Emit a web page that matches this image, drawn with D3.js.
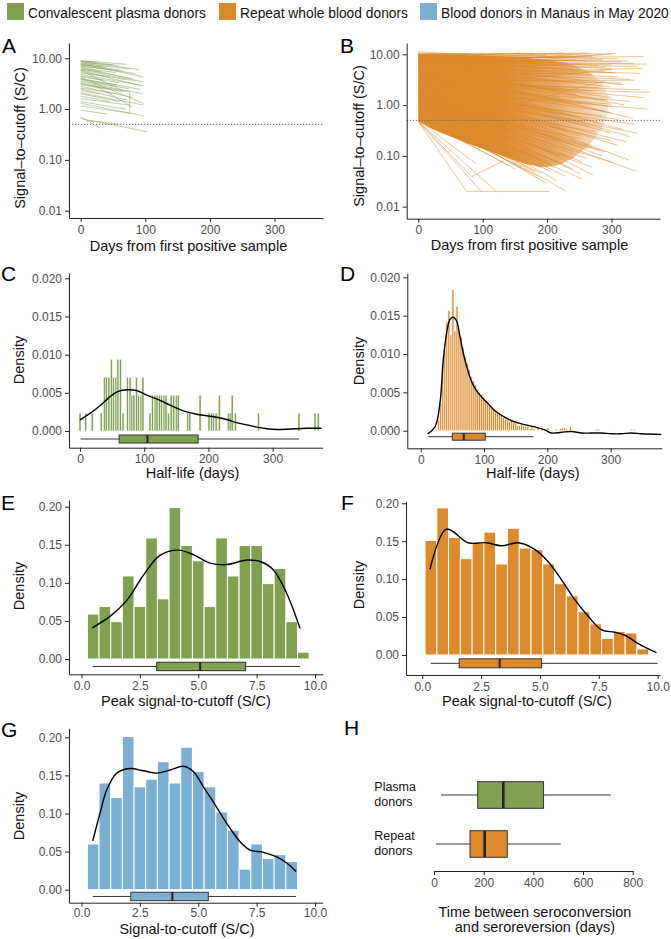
<!DOCTYPE html>
<html>
<head>
<meta charset="utf-8">
<script src="https://cdn.jsdelivr.net/npm/d3@7"></script>
<style>
  body { margin: 0; background: #fff; }
  svg { font-family: "Liberation Sans", Arial, Helvetica, sans-serif; }
</style>
</head>
<body>
<div id="fig"></div>
<script>
// colours of the three donor groups
var green = "#80a052", orange = "#dd8a2c", blue = "#7bafd4";

var legendLabels = ["Convalescent plasma donors", "Repeat whole blood donors", "Blood donors in Manaus in May 2020"];

// tick values
var scTicks = [0.01, 0.1, 1, 10];
var dayTicks = [0, 100, 200, 300];
var hlDensTicks = [0, 0.005, 0.01, 0.015, 0.02];
var scDensTicks = [0, 0.05, 0.1, 0.15, 0.2];
var scTicksX = [0, 2.5, 5, 7.5, 10];
var hTicks = [0, 200, 400, 600, 800];
var cutoff = 0.5;

// A: plasma donors, segments [day0, sc0, day1, sc1]
var aSegments = [
  [0,9.0,72,7.6],[0,8.8,60,7.2],[0,8.6,90,6.0],[0,8.3,50,7.5],[0,8.0,76,6.2],[0,7.8,97,4.3],
  [0,7.5,40,6.6],[0,7.2,85,5.0],[0,7.0,65,5.6],[0,6.8,97,3.4],[0,6.5,55,5.2],[0,6.2,80,4.0],
  [0,6.0,30,5.4],[0,5.7,92,2.9],[0,5.4,70,3.8],[0,5.1,45,4.3],[0,4.8,97,2.9],[0,4.5,60,3.3],
  [0,4.3,35,3.7],[0,4.0,92,2.45],[0,3.8,75,2.5],[0,3.6,50,2.8],[0,3.4,97,2.0],[0,3.2,65,2.2],
  [0,3.0,40,2.5],[0,2.8,80,1.7],[0,2.6,55,2.0],[0,2.5,72,1.5],[0,2.3,30,2.0],[0,2.1,97,1.2],
  [0,2.0,60,1.4],[0,1.8,45,1.4],[0,1.6,76,1.2],[0,1.4,70,1.0],[0,1.15,76,0.83],[0,3.1,76,2.2],
  [76,2.2,76,0.83],[0,0.95,40,0.8],[0,0.7,30,0.42],[0,0.65,102,0.36],[10,0.6,60,0.5],[0,8.9,25,8.4],
  [5,7.9,35,7.0],[10,5.0,65,2.3],[0,4.2,97,1.3],[20,3.0,80,1.1],[0,5.9,85,3.6],[0,7.6,60,5.9],
  [0,3.9,55,3.0],[0,1.3,97,0.74]
];

// B: repeat donors, outline of the dense fan (faded to the right) and single segments
var bFanDay = [0,60,120,170,210,240,265,285,295,295,285,265,240,215,190,165,140,110,80,50,23,0];
var bFanSC = [10.1,9.8,9.3,8.6,7.6,6.2,4.5,2.8,1.5,0.7,0.33,0.16,0.09,0.065,0.06,0.07,0.09,0.125,0.17,0.24,0.33,0.48];
var bSegments = [
  [0,9.5,80,10.2],[0,10.5,100,10.0],[0,11.2,85,9.7],[0,9,137,10.2],[0,8,158,10.6],[0,7.5,225,10.6],
  [0,9,240,9.9],[0,6,266,10.4],[0,7,287,9.8],[0,5,307,10.4],[0,8,315,7.1],[0,4,349,5.3],
  [0,3,336,3.1],[0,2.5,359,1.78],[0,6,297,2.3],[0,4,292,1.25],[0,3,302,0.93],[0,2,356,0.83],
  [0,5,333,0.55],[0,3.5,318,0.33],[0,4,328,0.24],[0,2,323,0.19],[0,1.5,282,0.13],[0,3,326,0.084],
  [0,1.8,338,0.05],[0,1.2,261,0.089],[0,2.5,271,0.042],[0,1.5,251,0.045],[0,0.9,230,0.02],
  [0,1,215,0.033],[0,0.8,199,0.029],[0,1.2,189,0.061],
  [0,0.48,75,0.02],[75,0.02,204,0.02],[0,0.48,98,0.02],[0,0.48,121,0.02],[0,0.48,83,0.039],
  [83,0.039,132,0.08],[0,0.5,90,0.07],
  [0,8.5,260,7.5],[0,9.5,280,6],[0,7,250,5],[0,6.5,270,4],[0,9,300,5.2],[0,5.5,310,3.6],
  [0,8,290,4.5],[0,4.5,260,2.8],[0,7,320,2.5],[0,3.5,270,1.9],[0,6,245,1.6],[0,5,300,1.4],
  [0,4,255,1.1],[0,2.8,290,0.75],[0,6.5,320,1.0],[0,3,240,0.6],[0,4.2,280,0.45],[0,2.2,265,0.38],
  [0,5.5,300,0.7],[0,2.5,250,0.25],[0,1.8,230,0.18],[0,3.2,300,0.28],[0,1.4,240,0.12],[0,2,270,0.15],
  [0,1.1,220,0.1],[0,2.6,310,0.16],[0,0.9,205,0.07],[0,1.6,255,0.075],[0,1.3,240,0.055],[0,2.2,285,0.1],
  [0,0.8,190,0.045],[0,1,228,0.04],
  [0,9.8,200,9.5],[0,9.2,230,8.5],[0,8.8,255,9.2],[0,10,180,10.4],[0,8,210,7],[0,7.3,245,7.8],
  [0,9,275,8.5],[0,6.8,300,6.2],[0,7.7,335,6.5],[0,5.7,345,4.2],[120,3,300,5],[150,1,290,3],
  [0,0.7,170,0.05],[0,0.6,150,0.055],[0,1.5,200,0.06],[0,0.9,180,0.05],[0,1.2,210,0.06],
  [0,9.3,310,8.2],[0,8.2,325,7.4],[0,6.2,340,5.8],[0,7.8,270,9.2],[0,6.6,285,7.9],[0,5.2,255,6.5],
  [0,4.8,290,5.6],[0,3.8,305,4.4],[0,4.6,330,3.2],[0,3.4,315,2.7],[0,2.7,280,2.2],[0,2.9,345,2.0],
  [0,3.6,350,1.4],[0,2.3,330,1.2],[0,1.9,300,1.05],[0,1.7,285,0.62],[0,2.1,310,0.52],[0,1.4,260,0.48],
  [0,1.7,335,0.42],[0,1.25,275,0.3],[0,1.9,340,0.28],[0,1.05,250,0.22],[0,1.5,300,0.2],[0,0.95,265,0.14],
  [0,1.3,290,0.12],[0,0.85,240,0.09],[0,1.15,300,0.075],[0,0.75,225,0.07],[0,1.0,270,0.06],[0,0.7,205,0.05],
  [0,0.65,185,0.04],[0,0.9,255,0.035],[0,0.6,160,0.06],[0,0.55,140,0.065],[0,0.7,175,0.07],[0,0.8,200,0.08],
  [0,10.2,300,10.2],[0,9.6,260,10.6],[0,8.4,350,9.0],[0,7,355,6.4]
];

// C: half-life histogram of plasma donors (bin centre in days, count) and density
var cBinWidth = 3.3, cDensPerCount = 0.00235;
var cHistDay = [0,9,19,33,38,41,45,49,52,56,59,63,67,74,78,81,84,88,91,95,98,109,113,117,120,
  124,127,131,134,138,142,146,150,153,168,171,187,201,205,208,212,217,231,234,237,242,278,341,366,371];
var cHistCount = [1,1,1,1,3,3,3,4,3,3,4,4,1,3,3,2,2,3,2,2,3,1,2,2,2,
  2,2,2,2,1,2,2,2,2,1,1,2,1,1,1,1,2,1,1,2,1,1,1,1,1];
var cDensDay = [0,15.6,31.2,46.7,59.7,74.2,88.3,103.8,119.4,135,150.6,166.1,181.7,197.3,212.9,228.5,244,259.6,275.2,290.8,306.4,327.1,353,376.4];
var cDensVal = [0.00145,0.0023,0.0033,0.0045,0.0052,0.0054,0.0053,0.0047,0.0042,0.0036,0.003,0.0025,0.0022,0.002,0.0018,0.0015,0.0011,0.0008,0.0005,0.0003,0.0002,0.00026,0.00035,0.00035];
var cBox = [1, 61, 105, 184, 341];

// D: half-life histogram of repeat donors (bin centre, density) and density
var dBinWidth = 3.2;
var dHistDay = [12.5,25.3,28.5,31.7,34.9,38.1,41.3,44.5,47.7,50.9,54.1,57.3,60.5,63.7,66.9,70.1,73.3,76.5,79.7,82.9,
  86.1,89.3,92.5,95.7,98.9,102.1,105.3,108.5,111.7,114.9,118.1,121.3,124.5,127.7,130.9,134.1,137.3,140.5,143.7,146.9,
  150.1,153.3,156.5,159.7,162.9,166.1,169.3,172.5,175.7,178.9,185.3,191.7,198.1,201.3,214.1,220.5,223.7,226.9,230.1,236.5,
  249.3,278.1,281.3,301.2,333.4,338.2];
var dHistVal = [0.0002,0.0002,0.0014,0.0036,0.0084,0.0104,0.0142,0.0157,0.0125,0.0184,0.013,0.0162,0.013,0.0122,0.0108,0.0096,0.0088,0.008,0.0071,0.0065,
  0.006,0.0054,0.005,0.0047,0.0043,0.004,0.0037,0.0034,0.0031,0.0029,0.0027,0.0024,0.0022,0.002,0.0017,0.0015,0.0014,0.0012,0.0013,0.0011,
  0.001,0.0007,0.0007,0.0008,0.0006,0.0005,0.0006,0.0003,0.0005,0.0003,0.0004,0.0003,0.0002,0.0004,0.0002,0.0003,0.0004,0.0004,0.0003,0.0006,
  0.0001,0.0002,0.0002,0.0001,0.0002,0.0002];
var dDensDay = [11,22.6,30.4,35.7,41,46.2,51.5,56.7,62,67.3,72.6,80.4,88.3,96.2,106.7,117.2,127.7,143.5,159.3,180.3,196,206.6,222.4,238.2,254,269.7,285.5,301.3,317,332.8,348.6,380];
var dDensVal = [-0.0004,0.0005,0.0036,0.0093,0.0128,0.0145,0.0148,0.0143,0.0123,0.0101,0.0084,0.0064,0.0052,0.0044,0.0035,0.0026,0.002,0.0013,0.0009,0.0005,0.0001,-0.0003,-0.0002,-0.0001,-0.0003,-0.0003,-0.0003,-0.0004,-0.0004,-0.0003,-0.0004,-0.0005];
var dBox = [12, 50, 68, 102, 178];

// E: peak S/C of plasma donors
var eHistMid = [0.5,1,1.5,2,2.5,3,3.5,4,4.5,5,5.5,6,6.5,7,7.5,8,8.5,9,9.5];
var eHistVal = [0.059,0.069,0.049,0.109,0.069,0.159,0.079,0.199,0.149,0.129,0.069,0.159,0.109,0.149,0.149,0.099,0.119,0.049,0.009];
var eDensX = [0.46,1.22,1.94,2.65,3.36,4.15,4.79,5.5,6.22,7.08,7.65,8.22,8.79,9.36];
var eDensY = [0.041,0.056,0.077,0.110,0.136,0.143,0.137,0.126,0.124,0.130,0.128,0.117,0.086,0.040];
var eBox = [0.48, 3.22, 5.08, 7.03, 9.36];

// F: peak S/C of repeat donors
var fHistMid = [0.37,0.87,1.37,1.87,2.37,2.87,3.37,3.87,4.37,4.87,5.37,5.87,6.37,6.87,7.37,7.87,8.37,8.87,9.37];
var fHistVal = [0.151,0.194,0.155,0.127,0.147,0.162,0.12,0.167,0.141,0.139,0.12,0.094,0.078,0.057,0.041,0.022,0.031,0.029,0.008];
var fDensX = [0.33,1.03,1.95,2.73,3.37,4.08,4.79,5.35,5.92,6.48,7.05,7.62,8.18,8.61,9.17,9.95];
var fDensY = [0.113,0.166,0.148,0.148,0.144,0.148,0.139,0.123,0.099,0.073,0.051,0.033,0.030,0.026,0.015,0.003];
var fBox = [0.36, 1.57, 3.29, 5.07, 10.0];

// G: S/C of blood donors in Manaus, May 2020
var gHistMid = [0.5,1,1.5,2,2.5,3,3.5,4,4.5,5,5.5,6,6.5,7,7.5,8,8.5,9];
var gHistVal = [0.060,0.140,0.121,0.201,0.135,0.145,0.168,0.140,0.187,0.155,0.135,0.102,0.078,0.027,0.060,0.041,0.046,0.037];
var gDensX = [0.48,0.79,1.08,1.51,2.08,2.65,3.22,3.79,4.36,4.79,5.22,5.65,6.22,6.79,7.22,7.79,8.36,8.79,9.19];
var gDensY = [0.064,0.100,0.131,0.153,0.159,0.156,0.153,0.157,0.162,0.155,0.135,0.115,0.087,0.063,0.052,0.049,0.043,0.035,0.024];
var gBox = [0.48, 2.11, 3.89, 5.43, 9.19];

// H: time between seroconversion and seroreversion
var hGroups = [["Plasma", "donors"], ["Repeat", "donors"]];
var hBoxes = [[28, 176, 279, 441, 712], [8, 145, 204, 295, 510]];
var hColors = [green, orange];

var svg = d3.select("#fig").append("svg").attr("width", 671).attr("height", 939);

function styleAxis(g) {
  g.attr("font-family", null).attr("font-size", null);
  g.select(".domain").attr("stroke", "#222");
  g.selectAll(".tick line").attr("stroke", "#222");
  g.selectAll(".tick text").attr("fill", "#4d4d4d").style("font-size", "12px");
}

function drawAxes(x, y, xTicks, yTicks, xFmt, yFmt, xPad) {
  var gx = svg.append("g").attr("transform", "translate(0," + y.range()[0] + ")")
    .call(d3.axisBottom(x).tickValues(xTicks).tickFormat(xFmt).tickSize(4).tickSizeOuter(0).tickPadding(xPad == null ? 3 : xPad));
  styleAxis(gx);
  var gy = svg.append("g").attr("transform", "translate(" + x.range()[0] + ",0)")
    .call(d3.axisLeft(y).tickValues(yTicks).tickFormat(yFmt).tickSize(4).tickSizeOuter(0).tickPadding(3));
  styleAxis(gy);
}

function xTitle(x, y, txt) {
  svg.append("text").attr("x", x).attr("y", y).attr("text-anchor", "middle")
    .style("font-size", "14.5px").attr("fill", "#111").text(txt);
}
function yTitle(x, y, txt) {
  svg.append("text").attr("transform", "translate(" + x + "," + y + ") rotate(-90)")
    .attr("text-anchor", "middle").attr("dy", "0.35em")
    .style("font-size", "14.5px").attr("fill", "#111").text(txt);
}
function letter(x, y, txt) {
  svg.append("text").attr("x", x).attr("y", y).style("font-size", "21px").attr("fill", "#000").text(txt);
}

function segments(x, y, data, color, op) {
  svg.append("g").selectAll("line").data(data).join("line")
    .attr("x1", function(d) { return x(d[0]); }).attr("y1", function(d) { return y(d[1]); })
    .attr("x2", function(d) { return x(d[2]); }).attr("y2", function(d) { return y(d[3]); })
    .attr("stroke", color).attr("stroke-opacity", op).attr("stroke-width", 1);
}

function cutLine(x, y) {
  svg.append("line").attr("x1", x.range()[0]).attr("x2", x.range()[1])
    .attr("y1", y(cutoff)).attr("y2", y(cutoff))
    .attr("stroke", "#666").attr("stroke-width", 1).attr("stroke-dasharray", "1.2,1.8");
}

function bars(x, y, mids, vals, halfW, color, sw) {
  svg.append("g").selectAll("rect").data(d3.zip(mids, vals)).join("rect")
    .attr("x", function(d) { return x(d[0] - halfW); })
    .attr("width", function(d) { return x(d[0] + halfW) - x(d[0] - halfW); })
    .attr("y", function(d) { return y(d[1]); })
    .attr("height", function(d) { return y(0) - y(d[1]); })
    .attr("fill", color).attr("stroke", "#fff").attr("stroke-width", sw);
}

function densLine(x, y, xs, ys) {
  var line = d3.line().x(function(d) { return x(d[0]); }).y(function(d) { return y(d[1]); })
    .curve(d3.curveCatmullRom.alpha(0.5));
  svg.append("path").attr("d", line(d3.zip(xs, ys)))
    .attr("fill", "none").attr("stroke", "#000").attr("stroke-width", 1.4);
}

function boxplot(x, yc, h, s, color, medW) {
  var g = svg.append("g");
  g.append("line").attr("x1", x(s[0])).attr("x2", x(s[4])).attr("y1", yc).attr("y2", yc)
    .attr("stroke", "#333").attr("stroke-width", 1);
  g.append("rect").attr("x", x(s[1])).attr("width", x(s[3]) - x(s[1]))
    .attr("y", yc - h / 2).attr("height", h)
    .attr("fill", color).attr("stroke", "#333").attr("stroke-width", 1);
  g.append("line").attr("x1", x(s[2])).attr("x2", x(s[2])).attr("y1", yc - h / 2).attr("y2", yc + h / 2)
    .attr("stroke", "#222").attr("stroke-width", medW);
}

// legend
var legColors = [green, orange, blue];
var legX = [7, 219, 420];
legendLabels.forEach(function(lab, i) {
  svg.append("rect").attr("x", legX[i]).attr("y", 3).attr("width", 17).attr("height", 17).attr("fill", legColors[i]);
  svg.append("text").attr("x", legX[i] + 21).attr("y", 17.5).style("font-size", "13.8px").attr("fill", "#111").text(lab);
});

var f2 = d3.format(".2f"), f3 = d3.format(".3f"), f1 = d3.format(".1f"), f0 = d3.format("d");

// ---- A
var xA = d3.scaleLinear().domain([-18.1, 375]).range([69, 323]);
var yA = d3.scaleLog().domain([0.00718, 20]).range([218, 43]);
segments(xA, yA, aSegments, green, 0.5);
cutLine(xA, yA);
drawAxes(xA, yA, dayTicks, scTicks, f0, f2);
xTitle(188.5, 251, "Days from first positive sample");
yTitle(20.4, 138, "Signal\u2013to\u2013cutoff (S/C)");
letter(2, 53, "A");

// ---- B
var xB = d3.scaleLinear().domain([-18, 375.3]).range([406.7, 660]);
var yB = d3.scaleLog().domain([0.0058, 16.7]).range([218.7, 43]);
var grad = svg.append("defs").append("linearGradient").attr("id", "fanFade")
  .attr("gradientUnits", "userSpaceOnUse")
  .attr("x1", xB(130)).attr("x2", xB(300)).attr("y1", 0).attr("y2", 0);
grad.append("stop").attr("offset", 0).attr("stop-color", orange).attr("stop-opacity", 1);
grad.append("stop").attr("offset", 0.5).attr("stop-color", orange).attr("stop-opacity", 0.7);
grad.append("stop").attr("offset", 1).attr("stop-color", orange).attr("stop-opacity", 0.15);
var fan = d3.line().x(function(d) { return xB(d[0]); }).y(function(d) { return yB(d[1]); });
svg.append("path").attr("d", fan(d3.zip(bFanDay, bFanSC)) + "Z").attr("fill", "url(#fanFade)");
segments(xB, yB, bSegments, orange, 0.5);
cutLine(xB, yB);
drawAxes(xB, yB, dayTicks, scTicks, f0, f2);
xTitle(529.5, 250, "Days from first positive sample");
yTitle(358.7, 136, "Signal\u2013to\u2013cutoff (S/C)");
letter(340, 53, "B");

// ---- C
var xC = d3.scaleLinear().domain([-17.1, 378]).range([69, 322.7]);
var yC = d3.scaleLinear().domain([-0.00219, 0.0207]).range([447.7, 273]);
bars(xC, yC, cHistDay, cHistCount.map(function(c) { return c * cDensPerCount; }), cBinWidth / 2, green, 0.6);
densLine(xC, yC, cDensDay, cDensVal);
boxplot(xC, yC(-0.00105), 8, cBox, green, 2);
drawAxes(xC, yC, dayTicks, hlDensTicks, f0, f3);
xTitle(192.5, 478, "Half-life (days)");
yTitle(18.7, 360, "Density");
letter(1, 281, "C");

// ---- D
var xD = d3.scaleLinear().domain([-21.2, 380.7]).range([407.3, 661.7]);
var yD = d3.scaleLinear().domain([-0.00229, 0.02052]).range([448.3, 273.3]);
bars(xD, yD, dHistDay, dHistVal, dBinWidth / 2, orange, 0.6);
densLine(xD, yD, dDensDay, dDensVal);
boxplot(xD, yD(-0.00078), 7, dBox, orange, 2);
drawAxes(xD, yD, dayTicks, hlDensTicks, f0, f3);
xTitle(532.8, 478, "Half-life (days)");
yTitle(358.7, 361, "Density");
letter(340, 281, "D");

// ---- E
var xE = d3.scaleLinear().domain([-0.536, 10.33]).range([69, 322.7]);
var yE = d3.scaleLinear().domain([-0.0201, 0.2088]).range([674.3, 500]);
bars(xE, yE, eHistMid, eHistVal, 0.25, green, 1);
densLine(xE, yE, eDensX, eDensY);
boxplot(xE, yE(-0.0098), 8.4, eBox, green, 2);
drawAxes(xE, yE, scTicksX, scDensTicks, f1, f2);
xTitle(186, 706, "Peak signal-to-cutoff (S/C)");
yTitle(18.7, 586, "Density");
letter(1, 510, "E");

// ---- F
var xF = d3.scaleLinear().domain([-0.69, 10.1]).range([406, 660]);
var yF = d3.scaleLinear().domain([-0.0264, 0.2021]).range([675, 501.7]);
bars(xF, yF, fHistMid, fHistVal, 0.25, orange, 1);
densLine(xF, yF, fDensX, fDensY);
boxplot(xF, yF(-0.011), 9, fBox, orange, 2);
drawAxes(xF, yF, scTicksX, scDensTicks, f1, f2);
xTitle(527, 706, "Peak signal-to-cutoff (S/C)");
yTitle(358.7, 585, "Density");
letter(341, 510, "F");

// ---- G
var xG = d3.scaleLinear().domain([-0.536, 10.33]).range([69, 322.7]);
var yG = d3.scaleLinear().domain([-0.0171, 0.2118]).range([902.7, 728.3]);
bars(xG, yG, gHistMid, gHistVal, 0.25, blue, 1);
densLine(xG, yG, gDensX, gDensY);
boxplot(xG, yG(-0.0089), 8.4, gBox, blue, 2);
drawAxes(xG, yG, scTicksX, scDensTicks, f1, f2, 1.5);
xTitle(187, 934, "Signal-to-cutoff (S/C)");
yTitle(18.7, 816, "Density");
letter(1, 737, "G");

// ---- H
var xH = d3.scaleLinear().domain([0, 800]).range([434, 632.7]);
var yH = d3.scalePoint().domain([0, 1]).range([795, 844]);
hBoxes.forEach(function(s, i) { boxplot(xH, yH(i), 26.6, s, hColors[i], 2.6); });
hGroups.forEach(function(lines, i) {
  var t = svg.append("text").attr("x", 374.3).style("font-size", "12.5px").attr("fill", "#111");
  t.append("tspan").attr("x", 374.3).attr("y", yH(i) - 4).text(lines[0]);
  t.append("tspan").attr("x", 374.3).attr("y", yH(i) + 10.5).text(lines[1]);
});
var gxH = svg.append("g").attr("transform", "translate(0,871)")
  .call(d3.axisBottom(xH).tickValues(hTicks).tickFormat(f0).tickSize(4).tickSizeOuter(0).tickPadding(3));
styleAxis(gxH);
xTitle(535, 916.5, "Time between seroconversion");
xTitle(535, 932, "and seroreversion (days)");
letter(344, 735, "H");
</script>
</body>
</html>
